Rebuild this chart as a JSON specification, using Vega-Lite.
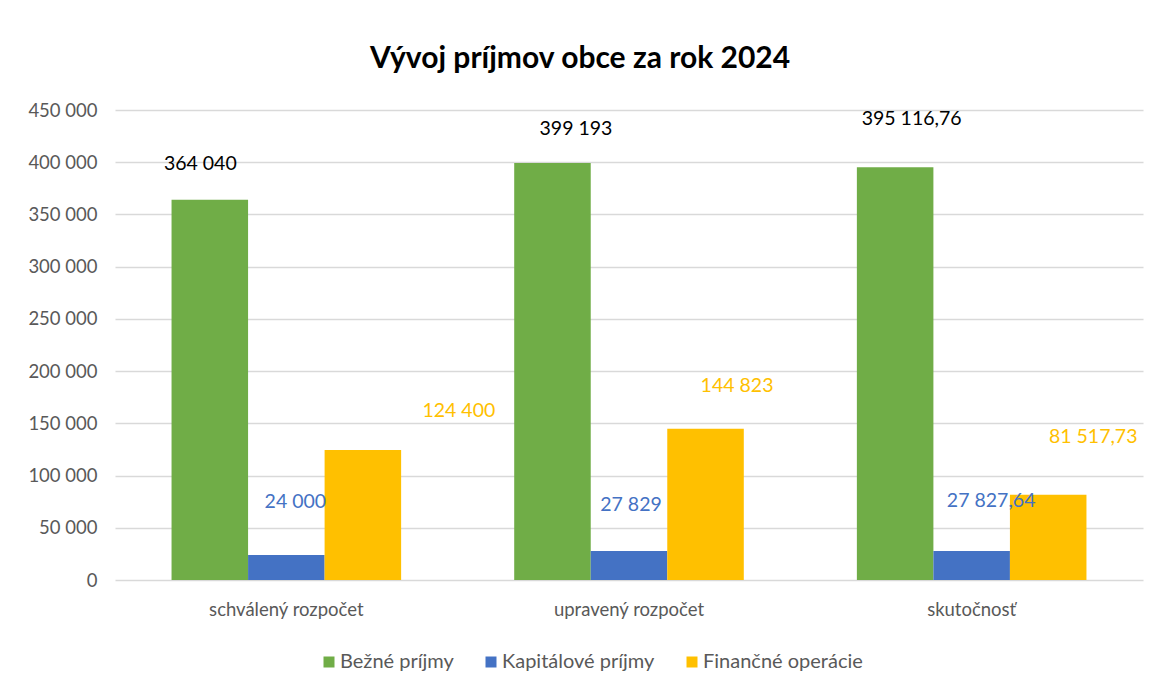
{
  "$schema": "https://vega.github.io/schema/vega-lite/v6.json",
  "width": 1028,
  "height": 470,
  "autosize": {"type": "none"},
  "padding": {"left": 115, "top": 110, "right": 16, "bottom": 113},
  "background": "white",
  "config": {
    "font": "Lato",
    "view": {"stroke": null},
    "locale": {"number": {"decimal": ",", "thousands": " ", "grouping": [3], "currency": ["", ""]}}
  },
  "title": {
    "text": "Vývoj príjmov obce za rok 2024",
    "fontSize": 30,
    "fontWeight": "bold",
    "color": "#000000",
    "font": "Lato",
    "anchor": "middle",
    "dx": -49,
    "offset": 27
  },
  "data": {
    "values": [
      {"kategoria": "schválený rozpočet", "seria": "Bežné príjmy", "hodnota": 364040},
      {"kategoria": "schválený rozpočet", "seria": "Kapitálové príjmy", "hodnota": 24000},
      {"kategoria": "schválený rozpočet", "seria": "Finančné operácie", "hodnota": 124400},
      {"kategoria": "upravený rozpočet", "seria": "Bežné príjmy", "hodnota": 399193},
      {"kategoria": "upravený rozpočet", "seria": "Kapitálové príjmy", "hodnota": 27829},
      {"kategoria": "upravený rozpočet", "seria": "Finančné operácie", "hodnota": 144823},
      {"kategoria": "skutočnosť", "seria": "Bežné príjmy", "hodnota": 395116.76},
      {"kategoria": "skutočnosť", "seria": "Kapitálové príjmy", "hodnota": 27827.64},
      {"kategoria": "skutočnosť", "seria": "Finančné operácie", "hodnota": 81517.73}
    ]
  },
  "encoding": {
    "x": {
      "field": "kategoria",
      "type": "nominal",
      "sort": ["schválený rozpočet", "upravený rozpočet", "skutočnosť"],
      "scale": {"paddingInner": 0.33, "paddingOuter": 0.165},
      "axis": {
        "title": null,
        "labelAngle": 0,
        "labelFontSize": 18.5,
        "labelColor": "#595959",
        "labelPadding": 20,
        "ticks": false,
        "domain": false,
        "grid": false
      }
    },
    "xOffset": {
      "field": "seria",
      "type": "nominal",
      "sort": ["Bežné príjmy", "Kapitálové príjmy", "Finančné operácie"],
      "scale": {"paddingInner": 0, "paddingOuter": 0}
    },
    "y": {
      "field": "hodnota",
      "type": "quantitative",
      "scale": {"domain": [0, 450000], "nice": false},
      "axis": {
        "title": null,
        "values": [0, 50000, 100000, 150000, 200000, 250000, 300000, 350000, 400000, 450000],
        "format": ",d",
        "labelFontSize": 18.5,
        "labelColor": "#595959",
        "labelPadding": 18,
        "ticks": false,
        "domain": false,
        "grid": true,
        "gridColor": "#d9d9d9",
        "gridWidth": 1.5
      }
    },
    "text": {"field": "hodnota", "type": "quantitative", "format": ","}
  },
  "layer": [
    {
      "mark": {"type": "bar"},
      "encoding": {
        "text": null,
        "color": {
          "field": "seria",
          "type": "nominal",
          "sort": ["Bežné príjmy", "Kapitálové príjmy", "Finančné operácie"],
          "scale": {
            "domain": ["Bežné príjmy", "Kapitálové príjmy", "Finančné operácie"],
            "range": ["#70AD47", "#4472C4", "#FFC000"]
          },
          "legend": {
            "title": null,
            "orient": "none",
            "direction": "horizontal",
            "legendX": 204,
            "legendY": 542,
            "symbolType": "square",
            "symbolSize": 121,
            "symbolStrokeWidth": 0,
            "labelFontSize": 20,
            "labelColor": "#595959",
            "columnPadding": 27,
            "labelOffset": 1
          }
        }
      }
    },
    {
      "transform": [{"filter": "datum.seria === 'Bežné príjmy' && datum.kategoria === 'schválený rozpočet'"}],
      "mark": {"type": "text", "fontSize": 19.5, "color": "#000000", "baseline": "middle", "dx": -9.5, "dy": -35.5}
    },
    {
      "transform": [{"filter": "datum.seria === 'Bežné príjmy' && datum.kategoria === 'upravený rozpočet'"}],
      "mark": {"type": "text", "fontSize": 19.5, "color": "#000000", "baseline": "middle", "dx": 23.5, "dy": -34}
    },
    {
      "transform": [{"filter": "datum.seria === 'Bežné príjmy' && datum.kategoria === 'skutočnosť'"}],
      "mark": {"type": "text", "fontSize": 19.5, "color": "#000000", "baseline": "middle", "dx": 16.5, "dy": -48}
    },
    {
      "transform": [{"filter": "datum.seria === 'Kapitálové príjmy' && datum.kategoria === 'schválený rozpočet'"}],
      "mark": {"type": "text", "fontSize": 19.5, "color": "#4472C4", "baseline": "middle", "dx": 9, "dy": -52.5}
    },
    {
      "transform": [{"filter": "datum.seria === 'Kapitálové príjmy' && datum.kategoria === 'upravený rozpočet'"}],
      "mark": {"type": "text", "fontSize": 19.5, "color": "#4472C4", "baseline": "middle", "dx": 2, "dy": -45.5}
    },
    {
      "transform": [{"filter": "datum.seria === 'Kapitálové príjmy' && datum.kategoria === 'skutočnosť'"}],
      "mark": {"type": "text", "fontSize": 19.5, "color": "#4472C4", "baseline": "middle", "dx": 19.5, "dy": -50}
    },
    {
      "transform": [{"filter": "datum.seria === 'Finančné operácie' && datum.kategoria === 'schválený rozpočet'"}],
      "mark": {"type": "text", "fontSize": 19.5, "color": "#FFC000", "baseline": "middle", "dx": 96, "dy": -39}
    },
    {
      "transform": [{"filter": "datum.seria === 'Finančné operácie' && datum.kategoria === 'upravený rozpočet'"}],
      "mark": {"type": "text", "fontSize": 19.5, "color": "#FFC000", "baseline": "middle", "dx": 31.5, "dy": -43}
    },
    {
      "transform": [{"filter": "datum.seria === 'Finančné operácie' && datum.kategoria === 'skutočnosť'"}],
      "mark": {"type": "text", "fontSize": 19.5, "color": "#FFC000", "baseline": "middle", "dx": 45, "dy": -58}
    }
  ]
}
